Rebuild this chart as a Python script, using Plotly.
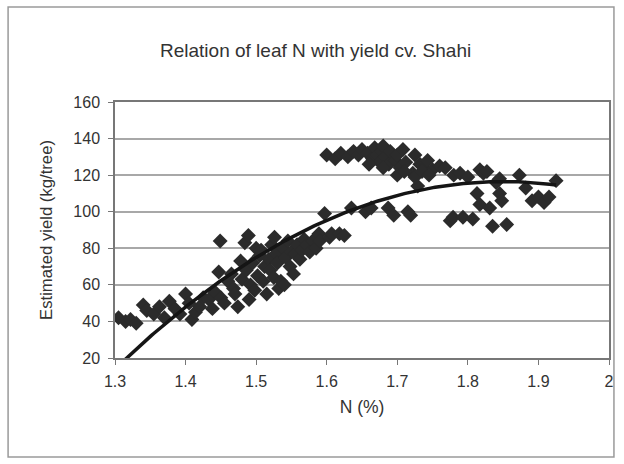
import numpy as np
import plotly.graph_objects as go

# Leaf nitrogen (%) and estimated yield (kg/tree), cv. Shahi
leaf_n = [
    1.305, 1.315, 1.322, 1.330, 1.340, 1.345, 1.355, 1.363, 1.370, 1.377,
    1.385, 1.392, 1.400, 1.405, 1.409, 1.414, 1.420, 1.425, 1.433, 1.438,
    1.442, 1.447, 1.449, 1.450, 1.455, 1.460, 1.465, 1.468, 1.470, 1.474,
    1.478, 1.480, 1.484, 1.486, 1.489, 1.490, 1.492, 1.495, 1.498, 1.500,
    1.502, 1.505, 1.507, 1.510, 1.512, 1.515, 1.518, 1.520, 1.522, 1.525,
    1.526, 1.528, 1.530, 1.532, 1.535, 1.538, 1.540, 1.542, 1.545, 1.548,
    1.550, 1.553, 1.555, 1.558, 1.562, 1.565, 1.568, 1.572, 1.576, 1.580,
    1.585, 1.589, 1.590, 1.597, 1.600, 1.604, 1.607, 1.612, 1.618, 1.620,
    1.625, 1.630, 1.635, 1.638, 1.645, 1.650, 1.655, 1.658, 1.663, 1.665,
    1.668, 1.672, 1.675, 1.678, 1.680, 1.683, 1.687, 1.688, 1.690, 1.695,
    1.697, 1.700, 1.704, 1.708, 1.712, 1.715, 1.719, 1.722, 1.725, 1.729,
    1.732, 1.738, 1.743, 1.750, 1.760, 1.768, 1.775, 1.779, 1.780, 1.789,
    1.793, 1.800, 1.807, 1.813, 1.817, 1.817, 1.822, 1.827, 1.831, 1.835,
    1.840, 1.845, 1.845, 1.848, 1.855, 1.873, 1.882, 1.891, 1.900, 1.908,
    1.915, 1.925, 1.660, 1.680, 1.700, 1.710, 1.725, 1.735, 1.745,
]
yield_kg = [
    42, 40, 41, 39, 49, 46, 44, 48, 42, 51,
    47, 44, 55, 50, 41, 45, 48, 53, 52, 47,
    56, 67, 84, 53, 50, 62, 66, 58, 55, 48,
    73, 63, 83, 68, 87, 52, 60, 72, 57, 80,
    65, 76, 79, 62, 70, 55, 74, 68, 82, 64,
    86, 77, 72, 58, 62, 80, 60, 75, 84, 70,
    78, 66, 77, 82, 74, 79, 85, 82, 78, 84,
    80, 88, 84, 99, 131, 86, 88, 129, 88, 132,
    87, 130, 102, 133, 131, 134, 100, 132, 102, 129,
    135, 131, 127, 133, 136, 130, 102, 126, 133, 98,
    128, 131, 124, 134, 127, 100, 98, 121, 131, 114,
    126, 124, 128, 123, 125, 124, 95, 97, 120, 121,
    97, 119, 96, 110, 123, 104, 121, 122, 102, 92,
    116, 118, 110, 106, 93, 120, 113, 106, 108, 105,
    108, 117, 126, 124, 120, 122, 119, 122, 120,
]

# Second-order polynomial trend: yield = c2*N^2 + c1*N + c0
trend_coef = [-339.0, 1254.3, -1043.7]

x_ticks = [1.3, 1.4, 1.5, 1.6, 1.7, 1.8, 1.9, 2.0]
x_tick_text = ["1.3", "1.4", "1.5", "1.6", "1.7", "1.8", "1.9", "2"]
y_ticks = [20, 40, 60, 80, 100, 120, 140, 160]

trend_x = np.linspace(min(leaf_n), max(leaf_n), 200)
trend_y = np.polyval(trend_coef, trend_x)

fig = go.Figure()
fig.add_trace(go.Scatter(
    x=leaf_n, y=yield_kg, mode="markers",
    marker=dict(symbol="diamond", size=11.5, color="#2b2b2b",
                line=dict(width=0)),
    showlegend=False,
))
fig.add_trace(go.Scatter(
    x=trend_x, y=trend_y, mode="lines",
    line=dict(color="#151515", width=3.5),
    showlegend=False,
))

W, H = 624, 464
ml, mr, mt, mb = 115, 10, 102, 106
pw, ph = W - ml - mr, H - mt - mb


def px_to_paper(px, py):
    return (px - ml) / pw, (H - mb - py) / ph


# Outer chart frame
x0, y0 = px_to_paper(7, 457)
x1, y1 = px_to_paper(619, 7)
fig.add_shape(type="rect", xref="paper", yref="paper",
              x0=x0, y0=y0, x1=x1, y1=y1,
              line=dict(color="#9a9a9a", width=1.5), layer="below")

tx, ty = px_to_paper(318, 38)
fig.add_annotation(text="Relation of leaf N with yield cv. Shahi",
                   xref="paper", yref="paper", x=tx, y=ty,
                   showarrow=False, font=dict(size=19, color="#333"))

fig.update_layout(
    width=W, height=H,
    margin=dict(l=ml, r=mr, t=mt, b=mb),
    paper_bgcolor="white", plot_bgcolor="white",
    font=dict(family="Liberation Sans, Arial, sans-serif", size=16,
              color="#333"),
    xaxis=dict(
        range=[1.3, 2.0], tickvals=x_ticks, ticktext=x_tick_text,
        showgrid=False, zeroline=False,
        showline=True, linecolor="#777", linewidth=1.5, mirror=True,
        ticks="outside", ticklen=5, tickcolor="#777",
        ticklabelstandoff=3,
        title=dict(text="N (%)", standoff=12, font=dict(size=17.5)),
    ),
    yaxis=dict(
        range=[20, 160], tickvals=y_ticks,
        showgrid=True, gridcolor="#a8a8a8", gridwidth=1.5, zeroline=False,
        showline=True, linecolor="#777", linewidth=1.5, mirror=True,
        ticks="outside", ticklen=5, tickcolor="#777",
        ticklabelstandoff=5,
        title=dict(text="Estimated yield (kg/tree)", standoff=17,
                   font=dict(size=16.7)),
    ),
)

fig.write_html("out.html")
